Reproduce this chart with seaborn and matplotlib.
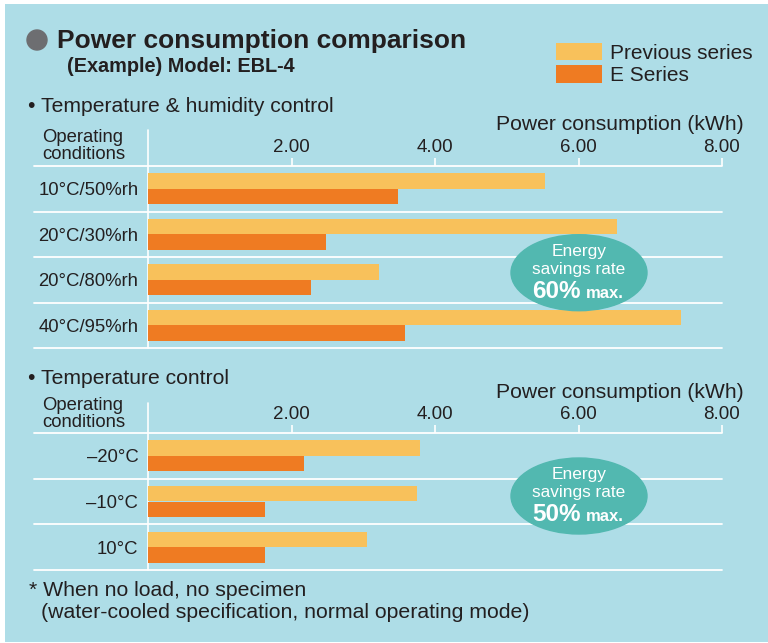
import matplotlib
matplotlib.use("Agg")
import matplotlib.pyplot as plt
from matplotlib.patches import Rectangle, Ellipse, Patch
import seaborn as sns
import pandas as pd

# ---------------- data ----------------
series_names = ["Previous series", "E Series"]
th_conditions = ["10°C/50%rh", "20°C/30%rh", "20°C/80%rh", "40°C/95%rh"]
th_previous = [5.53, 6.54, 3.22, 7.43]
th_e_series = [3.49, 2.48, 2.27, 3.58]
t_conditions = ["–20°C", "–10°C", "10°C"]
t_previous = [3.79, 3.75, 3.05]
t_e_series = [2.17, 1.63, 1.63]
x_ticks = [2, 4, 6, 8]
x_tick_labels = ["2.00", "4.00", "6.00", "8.00"]

# ---------------- style ----------------
sns.set_style("white")
plt.rcParams["font.family"] = ["Liberation Sans", "DejaVu Sans"]
BG = "#aedde7"
PREV = "#f8c15b"
ESER = "#ef7b22"
TEAL = "#52b8b0"
TXT = "#231f20"
W, H = 768, 643

fig = plt.figure(figsize=(W / 100, H / 100), dpi=100)
fig.patch.set_facecolor("white")
fig.add_artist(Rectangle((5 / W, 1 - 642 / H), 763 / W, 638 / H,
                         transform=fig.transFigure, facecolor=BG,
                         edgecolor="none", zorder=-10))


def fx(px):
    return px / W


def fy(py):
    return 1 - py / H


def make_df(conds, prev, eser):
    rows = []
    for c, p, e in zip(conds, prev, eser):
        rows.append({"condition": c, "series": series_names[0], "value": p})
        rows.append({"condition": c, "series": series_names[1], "value": e})
    return pd.DataFrame(rows)


def panel(top_px, bottom_px, vline_top_px, conds, prev, eser):
    ax = fig.add_axes([fx(148), fy(bottom_px), fx(722) - fx(148),
                       (bottom_px - top_px) / H])
    ax.set_facecolor("none")
    df = make_df(conds, prev, eser)
    sns.barplot(data=df, y="condition", x="value", hue="series",
                order=conds, hue_order=series_names,
                palette=[PREV, ESER], width=0.68, saturation=1,
                linewidth=0, legend=False, ax=ax, zorder=3)
    n = len(conds)
    ax.set_xlim(0, 8)
    ax.set_ylim(n - 0.5, -0.5)
    for s in ax.spines.values():
        s.set_visible(False)
    ax.set_xlabel("")
    ax.set_ylabel("")
    ax.xaxis.tick_top()
    ax.set_xticks(x_ticks)
    ax.set_xticklabels(x_tick_labels, fontsize=13.5, color=TXT)
    ax.tick_params(axis="x", colors="white", length=5.5, width=1.2,
                   pad=2, labelcolor=TXT)
    ax.set_yticks(range(n))
    ax.set_yticklabels(conds, fontsize=13.3, color=TXT)
    ax.tick_params(axis="y", length=0, pad=7)
    xmin_ext = (34 - 148) / (722 - 148)
    for y in [-0.5] + [i + 0.5 for i in range(n)]:
        ax.axhline(y, xmin=xmin_ext, xmax=1, color="white", lw=1.3,
                   clip_on=False, zorder=1)
    ax.axvline(0, ymin=0, ymax=1 + (top_px - vline_top_px) / (bottom_px - top_px),
               color="white", lw=1.2, clip_on=False, zorder=1)
    return ax


ax1 = panel(166, 348, 130, th_conditions, th_previous, th_e_series)
ax2 = panel(433, 570, 403, t_conditions, t_previous, t_e_series)

# ---------------- header ----------------
fig.add_artist(Ellipse((fx(37), fy(40)), 20 / W, 20 / H,
                       transform=fig.transFigure, color="#6d6e71"))
fig.text(fx(57), fy(41), "Power consumption comparison", fontsize=19,
         fontweight="bold", color=TXT, va="center", ha="left")
fig.text(fx(67), fy(67), "(Example) Model: EBL-4", fontsize=14.3,
         fontweight="bold", color=TXT, va="center", ha="left")

handles = [Patch(facecolor=PREV, edgecolor="none"),
           Patch(facecolor=ESER, edgecolor="none")]
fig.legend(handles, series_names, loc="upper left",
           bbox_to_anchor=(fx(556), fy(43)), frameon=False, fontsize=15,
           handlelength=2.2, handleheight=0.9, handletextpad=0.38,
           labelspacing=0.12, borderpad=0, borderaxespad=0,
           labelcolor=TXT)

# ---------------- section texts ----------------
for head_y, head, kwh_y, op_y in [(107, "• Temperature & humidity control", 124, 146),
                                   (378, "• Temperature control", 392, 414)]:
    fig.text(fx(28), fy(head_y), head, fontsize=15.2, color=TXT,
             va="center", ha="left")
    fig.text(fx(744), fy(kwh_y), "Power consumption (kWh)", fontsize=15.2,
             color=TXT, va="center", ha="right")
    fig.text(fx(42), fy(op_y), "Operating\nconditions", fontsize=13.3,
             color=TXT, va="center", ha="left", linespacing=0.95)

# ---------------- savings ellipses ----------------
for cy, pct in [(272.7, "60%"), (496, "50%")]:
    fig.add_artist(Ellipse((fx(579), fy(cy)), 136 / W, 76 / H,
                           transform=fig.transFigure, color=TEAL, zorder=5))
    fig.text(fx(579), fy(cy - 21), "Energy", fontsize=12.4, color="white",
             ha="center", va="center", zorder=6)
    fig.text(fx(579), fy(cy - 3.5), "savings rate", fontsize=12.4,
             color="white", ha="center", va="center", zorder=6)
    fig.text(fx(581), fy(cy + 25), pct, fontsize=17.5, fontweight="bold",
             color="white", ha="right", va="baseline", zorder=6)
    fig.text(fx(586), fy(cy + 25), "max.", fontsize=12, fontweight="bold",
             color="white", ha="left", va="baseline", zorder=6)

# ---------------- footnote ----------------
fig.text(fx(29), fy(590), "* When no load, no specimen", fontsize=15.3,
         color=TXT, va="center", ha="left")
fig.text(fx(41), fy(613), "(water-cooled specification, normal operating mode)",
         fontsize=15.3, color=TXT, va="center", ha="left")

fig.savefig("out.png", dpi=100, facecolor=fig.get_facecolor())
